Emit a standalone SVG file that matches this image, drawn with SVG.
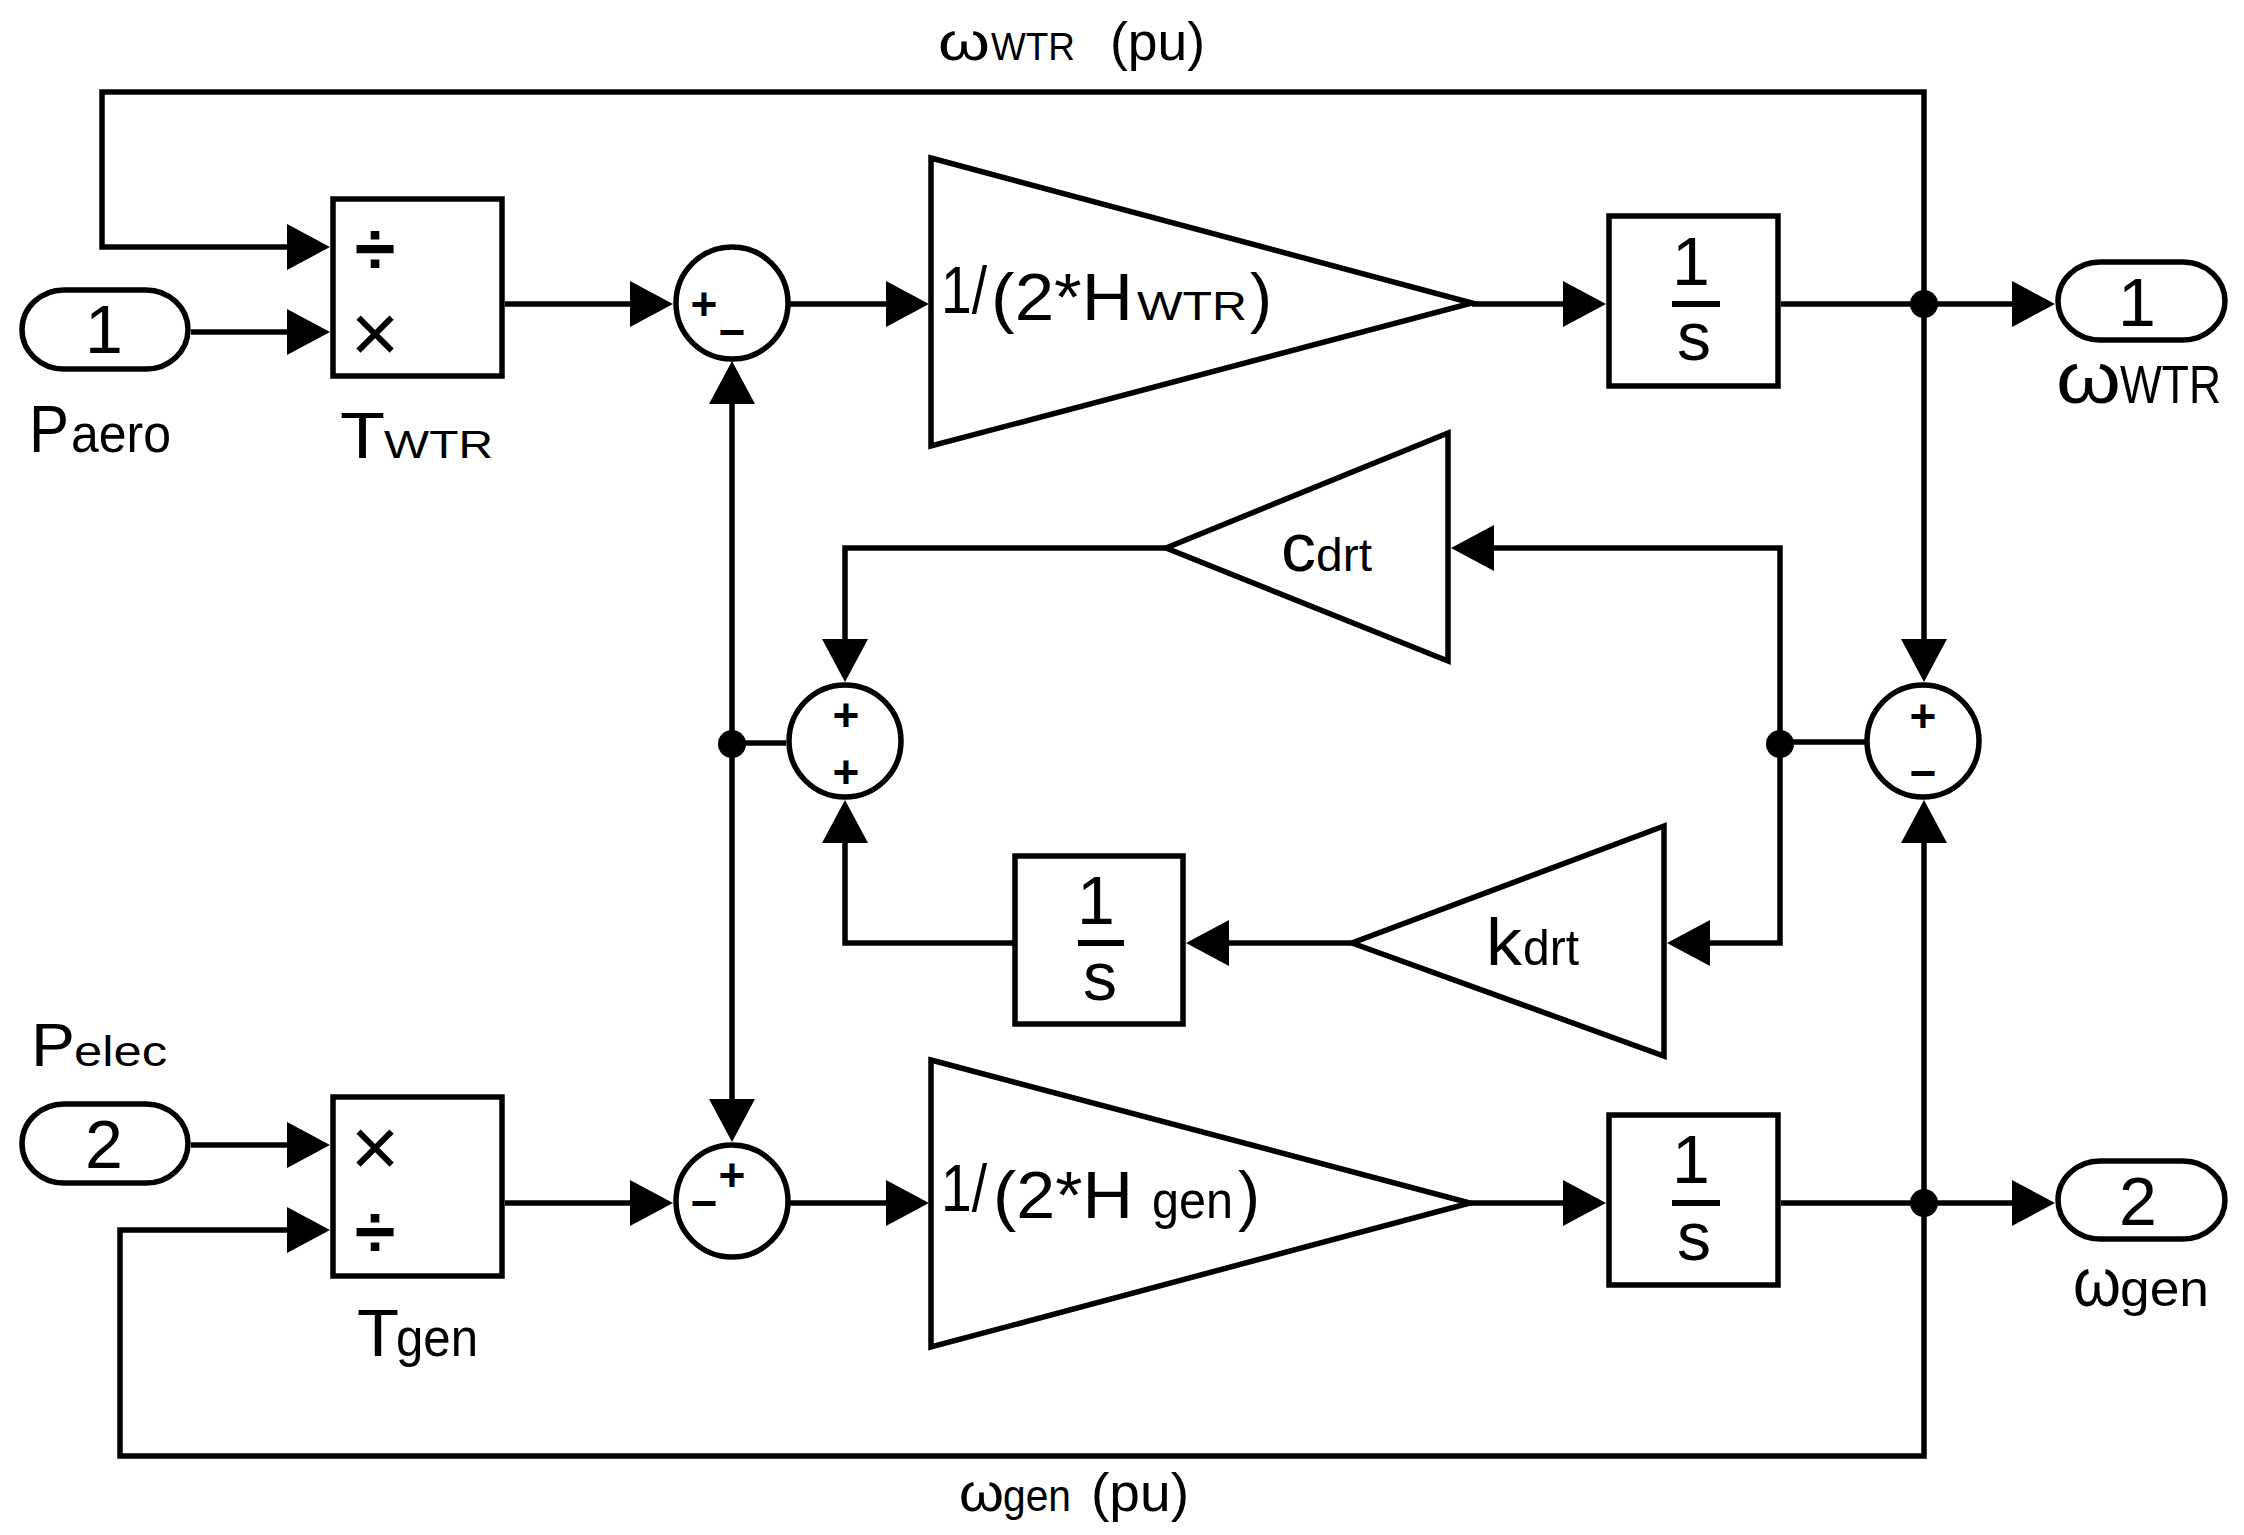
<svg xmlns="http://www.w3.org/2000/svg" width="2244" height="1535" viewBox="0 0 2244 1535">
<style>
.ln{fill:none;stroke:#000;stroke-width:5.5;stroke-linejoin:miter}
.arr{marker-end:url(#ah)}
.blk{fill:#fff;stroke:#000;stroke-width:5.5}
.t{font-family:"Liberation Sans",Arial,sans-serif;fill:#000}
.sg{font-family:"Liberation Sans",Arial,sans-serif;font-weight:bold;font-size:46px;text-anchor:middle;fill:#000}
.num{font-family:"Liberation Sans",Arial,sans-serif;font-size:68px;text-anchor:middle;fill:#000}
.dv{font-family:"Liberation Sans",Arial,sans-serif;font-weight:bold;font-size:74px;text-anchor:middle;fill:#000}
.mu{font-family:"Liberation Sans",Arial,sans-serif;font-size:84px;text-anchor:middle;fill:#000}
.dot{fill:#000}
.frac{stroke:#000;stroke-width:6}
</style>
<defs>
<marker id="ah" markerUnits="userSpaceOnUse" viewBox="0 0 43 46" markerWidth="43" markerHeight="46" refX="23" refY="23" orient="auto"><path d="M0,0L43,23L0,46z"/></marker>
</defs>
<rect width="2244" height="1535" fill="#fff"/>

<g id="connectors">
<path class="ln arr" d="M1924,304 L1924,92 L102,92 L102,247 L310,247"/>
<path class="ln arr" d="M1924,304 L1924,662"/>
<path class="ln arr" d="M191,332 L310,332"/>
<path class="ln arr" d="M505,304 L653,304"/>
<path class="ln arr" d="M787,304 L909,304"/>
<path class="ln arr" d="M1472,304 L1586,304"/>
<path class="ln arr" d="M1781,304 L2035,304"/>
<path class="ln arr" d="M732,744 L732,381"/>
<path class="ln arr" d="M732,744 L732,1122"/>
<path class="ln" d="M732,743 L786,743"/>
<path class="ln arr" d="M1166,548 L845,548 L845,662"/>
<path class="ln arr" d="M1015,943 L845,943 L845,820"/>
<path class="ln arr" d="M1352,943 L1206,943"/>
<path class="ln arr" d="M1780,744 L1780,548 L1471,548"/>
<path class="ln arr" d="M1780,744 L1780,943 L1687,943"/>
<path class="ln" d="M1780,742 L1866,742"/>
<path class="ln arr" d="M191,1145 L310,1145"/>
<path class="ln arr" d="M505,1203 L653,1203"/>
<path class="ln arr" d="M788,1203 L909,1203"/>
<path class="ln arr" d="M1470,1203 L1586,1203"/>
<path class="ln arr" d="M1781,1203 L2035,1203"/>
<path class="ln arr" d="M1924,1203 L1924,1456 L120,1456 L120,1230 L310,1230"/>
<path class="ln arr" d="M1924,1203 L1924,820"/>
<circle class="dot" cx="1924" cy="304" r="14"/>
<circle class="dot" cx="732" cy="744" r="14"/>
<circle class="dot" cx="1780" cy="744" r="14"/>
<circle class="dot" cx="1924" cy="1203" r="14"/>
</g>

<g id="in1">
<rect class="blk" x="22" y="290" width="166" height="79" rx="42" ry="40"/>
<text class="num" x="104" y="353">1</text>
<text class="t" y="452"><tspan x="29" font-size="66" textLength="40" lengthAdjust="spacingAndGlyphs">P</tspan><tspan x="71" font-size="54" textLength="100" lengthAdjust="spacingAndGlyphs">aero</tspan></text>
</g>

<g id="in2">
<rect class="blk" x="22" y="1104" width="166" height="79" rx="42" ry="40"/>
<text class="num" x="104" y="1168">2</text>
<text class="t" y="1066"><tspan x="31" font-size="62" textLength="44" lengthAdjust="spacingAndGlyphs">P</tspan><tspan x="74" font-size="42" textLength="93" lengthAdjust="spacingAndGlyphs">elec</tspan></text>
</g>

<g id="Twtr">
<rect class="blk" x="333" y="199" width="169" height="177"/>
<text class="dv" x="375" y="274">÷</text>
<text class="mu" x="375" y="362">×</text>
<text class="t" y="458"><tspan x="340" font-size="64" textLength="45" lengthAdjust="spacingAndGlyphs">T</tspan><tspan x="384" font-size="39" textLength="109" lengthAdjust="spacingAndGlyphs">WTR</tspan></text>
</g>

<g id="Tgen">
<rect class="blk" x="333" y="1097" width="169" height="179"/>
<text class="mu" x="375" y="1176">×</text>
<text class="dv" x="375" y="1257">÷</text>
<text class="t" y="1356"><tspan x="357" font-size="67" textLength="42" lengthAdjust="spacingAndGlyphs">T</tspan><tspan x="396" font-size="54" textLength="82" lengthAdjust="spacingAndGlyphs">gen</tspan></text>
</g>

<g id="sum1">
<circle class="blk" cx="732" cy="303" r="56"/>
<text class="sg" x="704" y="320">+</text>
<text class="sg" x="732" y="348">−</text>
</g>

<g id="sum2">
<circle class="blk" cx="845" cy="741" r="56"/>
<text class="sg" x="846" y="731">+</text>
<text class="sg" x="846" y="788">+</text>
</g>

<g id="sum3">
<circle class="blk" cx="732" cy="1201" r="56"/>
<text class="sg" x="732" y="1191">+</text>
<text class="sg" x="704" y="1219">−</text>
</g>

<g id="sum4">
<circle class="blk" cx="1923" cy="741" r="56"/>
<text class="sg" x="1923" y="732">+</text>
<text class="sg" x="1923" y="789">−</text>
</g>

<g id="gainWTR">
<polygon class="blk" points="931,158 1472,303 931,446"/>
<text class="t"><tspan x="941" y="313" font-size="66" textLength="46" lengthAdjust="spacingAndGlyphs">1/</tspan><tspan x="991" y="320" font-size="66" textLength="142" lengthAdjust="spacingAndGlyphs">(2*H</tspan><tspan x="1137" y="320" font-size="40" textLength="110" lengthAdjust="spacingAndGlyphs">WTR</tspan><tspan x="1250" y="320" font-size="66">)</tspan></text>
</g>

<g id="gainGen">
<polygon class="blk" points="931,1060 1470,1203 931,1347"/>
<text class="t"><tspan x="941" y="1211" font-size="66" textLength="46" lengthAdjust="spacingAndGlyphs">1/</tspan><tspan x="993" y="1218" font-size="66" textLength="140" lengthAdjust="spacingAndGlyphs">(2*H</tspan><tspan x="1152" y="1218" font-size="52" textLength="81" lengthAdjust="spacingAndGlyphs">gen</tspan><tspan x="1238" y="1218" font-size="66">)</tspan></text>
</g>

<g id="int1">
<rect class="blk" x="1609" y="216" width="169" height="170"/>
<text class="num" x="1691" y="285">1</text>
<line class="frac" x1="1672" y1="304" x2="1720" y2="304"/>
<text class="num" x="1694" y="360" font-size="60">s</text>
</g>

<g id="int2">
<rect class="blk" x="1015" y="856" width="168" height="168"/>
<text class="num" x="1096" y="924">1</text>
<line class="frac" x1="1078" y1="943" x2="1124" y2="943"/>
<text class="num" x="1100" y="1000" font-size="60">s</text>
</g>

<g id="int3">
<rect class="blk" x="1609" y="1115" width="169" height="170"/>
<text class="num" x="1691" y="1183">1</text>
<line class="frac" x1="1672" y1="1203" x2="1720" y2="1203"/>
<text class="num" x="1694" y="1260" font-size="60">s</text>
</g>

<g id="cdrt">
<polygon class="blk" points="1448,433 1166,548 1448,661"/>
<text class="t" y="571"><tspan x="1281" font-size="69" textLength="35" lengthAdjust="spacingAndGlyphs">c</tspan><tspan x="1316" font-size="47" textLength="56" lengthAdjust="spacingAndGlyphs">drt</tspan></text>
</g>

<g id="kdrt">
<polygon class="blk" points="1664,826 1352,943 1664,1056"/>
<text class="t" y="965"><tspan x="1486" font-size="67" textLength="36" lengthAdjust="spacingAndGlyphs">k</tspan><tspan x="1523" font-size="50" textLength="56" lengthAdjust="spacingAndGlyphs">drt</tspan></text>
</g>

<g id="out1">
<rect class="blk" x="2058" y="262" width="167" height="78" rx="42" ry="39"/>
<text class="num" x="2137" y="326">1</text>
<text class="t" y="403"><tspan x="2056" font-size="73" textLength="65" lengthAdjust="spacingAndGlyphs">ω</tspan><tspan x="2120" font-size="53" textLength="101" lengthAdjust="spacingAndGlyphs">WTR</tspan></text>
</g>

<g id="out2">
<rect class="blk" x="2058" y="1161" width="167" height="78" rx="42" ry="39"/>
<text class="num" x="2138" y="1225">2</text>
<text class="t" y="1306"><tspan x="2073" font-size="69" textLength="48" lengthAdjust="spacingAndGlyphs">ω</tspan><tspan x="2120" font-size="50" textLength="89" lengthAdjust="spacingAndGlyphs">gen</tspan></text>
</g>

<g id="labels">
<text class="t" y="60"><tspan x="938" font-size="54" textLength="52" lengthAdjust="spacingAndGlyphs">ω</tspan><tspan x="991" font-size="38" textLength="84" lengthAdjust="spacingAndGlyphs">WTR</tspan><tspan x="1110" font-size="54" textLength="95" lengthAdjust="spacingAndGlyphs">(pu)</tspan></text>
<text class="t" y="1511"><tspan x="959" font-size="54" textLength="45" lengthAdjust="spacingAndGlyphs">ω</tspan><tspan x="1003" font-size="45" textLength="68" lengthAdjust="spacingAndGlyphs">gen</tspan><tspan x="1091" font-size="54" textLength="98" lengthAdjust="spacingAndGlyphs">(pu)</tspan></text>
</g>
</svg>
